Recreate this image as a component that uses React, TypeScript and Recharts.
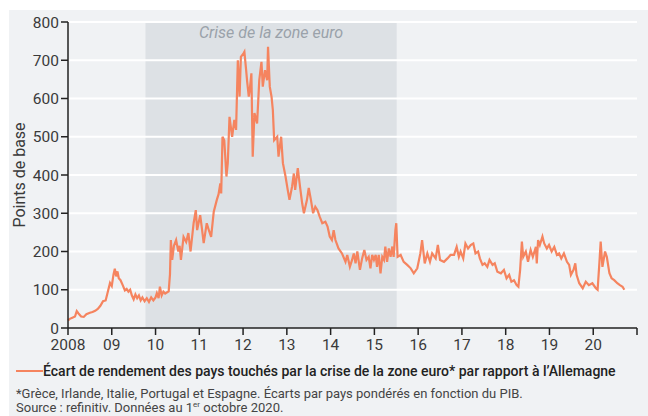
import React from 'react';
import { LineChart, Line, XAxis, YAxis, ReferenceArea, ReferenceLine, Label } from 'recharts';

// Time (fractional year) and spread values (basis points)
const years: number[] = [
  2008.00, 2008.04, 2008.10, 2008.16, 2008.20, 2008.24, 2008.30, 2008.36, 2008.42, 2008.50,
  2008.56, 2008.62, 2008.68, 2008.74, 2008.80, 2008.86, 2008.90, 2008.96, 2009.00, 2009.04,
  2009.07, 2009.10, 2009.13, 2009.16, 2009.20, 2009.25, 2009.30, 2009.34, 2009.38, 2009.42,
  2009.46, 2009.50, 2009.54, 2009.58, 2009.62, 2009.66, 2009.70, 2009.75, 2009.80, 2009.85,
  2009.90, 2009.95, 2010.00, 2010.03, 2010.07, 2010.10, 2010.14, 2010.18, 2010.22, 2010.30,
  2010.33, 2010.35, 2010.38, 2010.42, 2010.47, 2010.52, 2010.55, 2010.58, 2010.64, 2010.70,
  2010.75, 2010.80, 2010.87, 2010.92, 2010.95, 2011.02, 2011.06, 2011.10, 2011.17, 2011.22,
  2011.27, 2011.33, 2011.40, 2011.44, 2011.48, 2011.50, 2011.53, 2011.57, 2011.62, 2011.65,
  2011.69, 2011.75, 2011.80, 2011.84, 2011.88, 2011.92, 2011.95, 2012.01, 2012.03, 2012.07,
  2012.09, 2012.13, 2012.15, 2012.19, 2012.22, 2012.26, 2012.32, 2012.37, 2012.42, 2012.45,
  2012.50, 2012.55, 2012.57, 2012.61, 2012.65, 2012.68, 2012.71, 2012.78, 2012.81, 2012.87,
  2012.91, 2012.97, 2013.02, 2013.06, 2013.12, 2013.16, 2013.19, 2013.25, 2013.30, 2013.35,
  2013.39, 2013.46, 2013.50, 2013.55, 2013.60, 2013.65, 2013.70, 2013.75, 2013.81, 2013.88,
  2013.93, 2013.98, 2014.03, 2014.07, 2014.11, 2014.18, 2014.26, 2014.34, 2014.38, 2014.44,
  2014.49, 2014.53, 2014.57, 2014.61, 2014.67, 2014.72, 2014.77, 2014.82, 2014.87, 2014.91,
  2014.95, 2014.99, 2015.03, 2015.06, 2015.10, 2015.14, 2015.18, 2015.22, 2015.25, 2015.29,
  2015.33, 2015.37, 2015.41, 2015.44, 2015.48, 2015.50, 2015.53, 2015.60, 2015.67, 2015.75,
  2015.83, 2015.90, 2015.98, 2016.05, 2016.09, 2016.15, 2016.21, 2016.27, 2016.32, 2016.40,
  2016.45, 2016.50, 2016.59, 2016.67, 2016.74, 2016.82, 2016.88, 2016.93, 2016.97, 2017.03,
  2017.08, 2017.14, 2017.20, 2017.26, 2017.31, 2017.37, 2017.41, 2017.47, 2017.52, 2017.58,
  2017.63, 2017.70, 2017.75, 2017.81, 2017.89, 2017.96, 2018.02, 2018.08, 2018.13, 2018.19,
  2018.25, 2018.29, 2018.33, 2018.37, 2018.40, 2018.46, 2018.51, 2018.57, 2018.62, 2018.69,
  2018.71, 2018.74, 2018.78, 2018.84, 2018.88, 2018.94, 2018.99, 2019.05, 2019.11, 2019.17,
  2019.22, 2019.27, 2019.33, 2019.40, 2019.45, 2019.49, 2019.55, 2019.59, 2019.62, 2019.68,
  2019.76, 2019.83, 2019.90, 2019.98, 2020.06, 2020.10, 2020.14, 2020.17, 2020.21, 2020.27,
  2020.31, 2020.37, 2020.42, 2020.48, 2020.55, 2020.61, 2020.67, 2020.71,
];

const spread: number[] = [
  20, 24, 27, 30, 44, 38, 30, 29, 36, 40,
  42, 45, 50, 58, 70, 72, 90, 118, 110, 140,
  155, 135, 148, 130, 125, 112, 98, 102, 95, 100,
  85, 75, 88, 78, 85, 72, 80, 70, 78, 68,
  80, 72, 80, 91, 78, 108, 85, 95, 90, 96,
  140, 230, 178, 215, 230, 200, 215, 178, 238, 225,
  248, 200, 274, 308, 256, 295, 260, 222, 274, 255,
  238, 304, 335, 350, 378, 352, 500, 491, 396, 431,
  552, 500, 544, 518, 700, 605, 709, 718, 722, 674,
  648, 605, 620, 666, 448, 562, 535, 648, 696, 631,
  674, 648, 735, 631, 605, 570, 491, 500, 448, 500,
  431, 396, 361, 335, 370, 404, 361, 418, 370, 326,
  300, 335, 366, 335, 300, 317, 308, 291, 274, 278,
  265, 239, 230, 256, 230, 208, 195, 173, 191, 160,
  178, 195, 169, 200, 152, 182, 204, 178, 186, 156,
  191, 178, 191, 160, 191, 143, 186, 178, 213, 173,
  208, 186, 213, 186, 256, 274, 186, 191, 173, 165,
  156, 143, 156, 195, 230, 169, 195, 173, 195, 182,
  217, 178, 173, 182, 191, 191, 212, 186, 200, 182,
  221, 208, 217, 221, 195, 200, 182, 165, 169, 160,
  178, 165, 169, 147, 143, 152, 130, 139, 121, 125,
  112, 108, 152, 226, 186, 200, 173, 204, 186, 212,
  169, 230, 217, 239, 221, 208, 217, 200, 212, 191,
  195, 182, 195, 173, 165, 139, 152, 169, 139, 117,
  104, 121, 112, 117, 104, 100, 169, 226, 160, 200,
  186, 143, 130, 125, 117, 112, 108, 100,
];

const xTicks: number[] = [2008, 2009, 2010, 2011, 2012, 2013, 2014, 2015, 2016, 2017, 2018, 2019, 2020, 2021];
const xTickLabels: string[] = ['2008', '09', '10', '11', '12', '13', '14', '15', '16', '17', '18', '19', '20', ''];
const yTicks: number[] = [0, 100, 200, 300, 400, 500, 600, 700, 800];
const gridValues: number[] = [100, 200, 300, 400, 500, 600, 700, 800];
const crisisStart = 2009.77;
const crisisEnd = 2015.51;

const seriesName = "Écart de rendement des pays touchés par la crise de la zone euro* par rapport à l’Allemagne";
const noteLine1 = '*Grèce, Irlande, Italie, Portugal et Espagne. Écarts par pays pondérés en fonction du PIB.';

const data = years.map((t, i) => ({ t, v: spread[i] }));

const LINE = '#f5845f';
const FONT = 'Roboto, "Noto Sans", sans-serif';
const BG = '#f0f2f4';
const SHADE = '#dde1e5';

export default function App() {
  return (
    <div style={{ position: 'relative', width: 648, height: 416, background: '#fff', overflow: 'hidden', fontFamily: FONT }}>
      <style>{`html,body{margin:0;padding:0;overflow:hidden;}`}</style>
      <div style={{ position: 'absolute', left: 9, top: 10, width: 639, height: 406, background: BG }}>
        <LineChart width={639} height={348} data={data} margin={{ top: 12, right: 11, left: 0, bottom: 0 }}>
          <XAxis
            dataKey="t"
            type="number"
            domain={[2008, 2021]}
            ticks={xTicks}
            interval={0}
            tickFormatter={(v: number) => xTickLabels[xTicks.indexOf(v)] ?? ''}
            axisLine={{ stroke: '#222', strokeWidth: 1.5 }}
            tickLine={{ stroke: '#222', strokeWidth: 1.5 }}
            tickSize={7}
            tickMargin={4}
            tick={{ fill: '#3a3a3a', fontSize: 15.5, fontFamily: FONT }}
            height={30}
          />
          <YAxis
            type="number"
            domain={[0, 800]}
            ticks={yTicks}
            interval={0}
            width={59}
            axisLine={{ stroke: '#222', strokeWidth: 1.5 }}
            tickLine={{ stroke: '#222', strokeWidth: 1.5 }}
            tickSize={7}
            tickMargin={2}
            tick={{ fill: '#3a3a3a', fontSize: 15.5, fontFamily: FONT }}
          >
            <Label
              content={(props: any) => {
                const vb = props.viewBox || { y: 12, height: 306 };
                const cx = 10;
                const cy = vb.y + vb.height / 2;
                return (
                  <text
                    x={cx}
                    y={cy}
                    transform={`rotate(-90 ${cx} ${cy})`}
                    textAnchor="middle"
                    dominantBaseline="central"
                    fill="#3a3a3a"
                    fontSize={16}
                    fontFamily={FONT}
                  >
                    Points de base
                  </text>
                );
              }}
            />
          </YAxis>
          <ReferenceArea
            x1={crisisStart}
            x2={crisisEnd}
            y1={0}
            y2={800}
            fill={SHADE}
            fillOpacity={1}
            stroke="none"
            label={{
              value: 'Crise de la zone euro',
              position: 'insideTop',
              offset: 5,
              fill: '#9aa2aa',
              fontSize: 16,
              fontStyle: 'italic',
              fontFamily: FONT,
            }}
          />
          {gridValues.map((g) => (
            <ReferenceLine key={g} y={g} stroke="#ffffff" strokeWidth={2} />
          ))}
          <Line
            type="linear"
            dataKey="v"
            stroke={LINE}
            strokeWidth={2.2}
            dot={false}
            isAnimationActive={false}
          />
        </LineChart>
        <div style={{ position: 'absolute', left: 7, top: 352, height: 18, display: 'flex', alignItems: 'center', whiteSpace: 'nowrap' }}>
          <div style={{ width: 27, height: 2, background: LINE }} />
          <span style={{ fontSize: 14, color: '#222', fontWeight: 500, fontFamily: FONT }}>{seriesName}</span>
        </div>
        <div style={{ position: 'absolute', left: 7, top: 377, fontSize: 13, lineHeight: '14px', color: '#444', fontFamily: FONT, whiteSpace: 'nowrap' }}>
          <div>{noteLine1}</div>
          <div>
            Source : refinitiv. Données au 1<sup style={{ fontSize: 8, lineHeight: 0 }}>er</sup> octobre 2020.
          </div>
        </div>
      </div>
    </div>
  );
}
